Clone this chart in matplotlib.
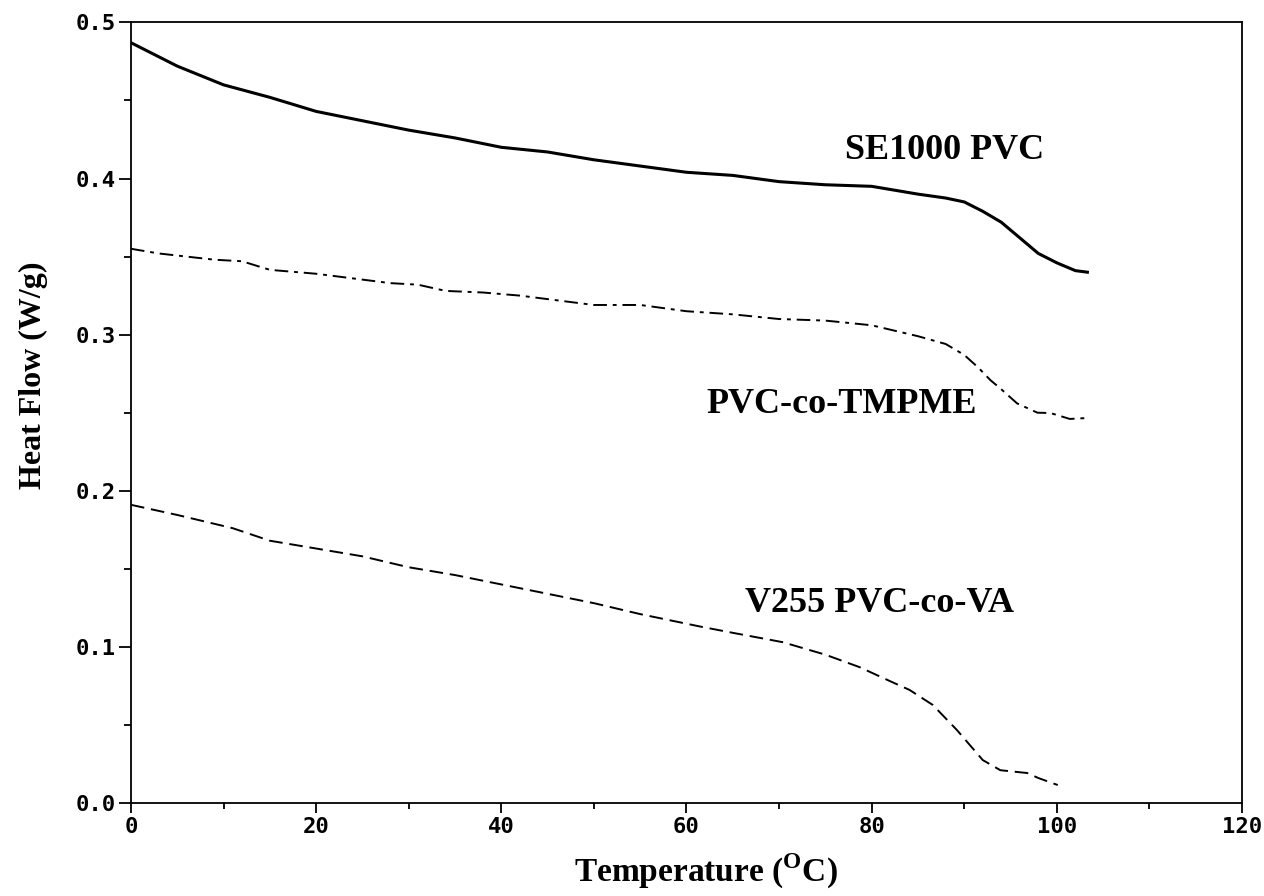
import matplotlib
matplotlib.use("Agg")
import matplotlib.pyplot as plt
from matplotlib.ticker import MultipleLocator

plt.rcParams['mathtext.fontset'] = 'custom'
plt.rcParams['mathtext.rm'] = 'Liberation Serif:bold'

# ---- data ----
se_temp = [0, 2, 5, 10, 15, 20, 25, 30, 35, 40, 45, 50, 55, 60, 65, 70, 75, 80,
           85, 88, 90, 92, 94, 96, 98, 100, 102, 103.3]
se_flow = [0.487, 0.481, 0.472, 0.460, 0.452, 0.443, 0.437, 0.431, 0.426, 0.420,
           0.417, 0.412, 0.408, 0.404, 0.402, 0.398, 0.396, 0.395, 0.390, 0.3875,
           0.385, 0.379, 0.372, 0.362, 0.352, 0.346, 0.341, 0.340]

tm_temp = [0, 3, 6, 9, 12, 15, 20, 24, 28, 31, 34, 38, 42, 46, 50, 55, 60, 65, 70,
           75, 80, 85, 88, 90, 91.5, 92.8, 94, 95.7, 97.9, 99.3, 101.4, 103.3]
tm_flow = [0.355, 0.352, 0.350, 0.348, 0.347, 0.3415, 0.339, 0.336, 0.333, 0.332,
           0.328, 0.327, 0.325, 0.322, 0.319, 0.319, 0.315, 0.313, 0.310, 0.309,
           0.306, 0.299, 0.294, 0.287, 0.279, 0.271, 0.265, 0.256, 0.250, 0.2498,
           0.246, 0.2466]

va_temp = [0, 5, 11, 15, 20, 25, 30, 35, 40, 45, 50, 55, 61.5, 65, 70.4, 75, 78.7,
           82, 84.1, 86.6, 89.2, 92, 93.9, 96.8, 98, 100.1]
va_flow = [0.191, 0.1845, 0.176, 0.168, 0.163, 0.158, 0.151, 0.146, 0.140, 0.134,
           0.128, 0.121, 0.113, 0.109, 0.103, 0.095, 0.087, 0.078, 0.0724, 0.0628,
           0.0468, 0.0275, 0.021, 0.0192, 0.016, 0.0115]

series_labels = ["SE1000 PVC", "PVC-co-TMPME", "V255 PVC-co-VA"]
label_pos = [(87.9, 0.418), (76.8, 0.255), (80.8, 0.1275)]

x_ticks = [0, 20, 40, 60, 80, 100, 120]
y_ticks = [0.0, 0.1, 0.2, 0.3, 0.4, 0.5]

# ---- figure ----
fig = plt.figure(figsize=(12.64, 8.96), dpi=100)
ax = fig.add_axes([0.1036, 0.1038, 0.879, 0.8712])

ax.plot(se_temp, se_flow, color='black', lw=2.2, linestyle='-')
ax.plot(tm_temp, tm_flow, color='black', lw=1.4, linestyle=(0, (7, 3, 2, 3)))
ax.plot(va_temp, va_flow, color='black', lw=1.4, linestyle=(0, (7, 3.5)))

for lab, (lx, ly) in zip(series_labels, label_pos):
    ax.text(lx, ly, lab, ha='center', va='center', fontsize=26,
            fontweight='bold', family='Liberation Serif')

ax.set_xlim(0, 120)
ax.set_ylim(0, 0.5)
ax.set_xticks(x_ticks)
ax.set_xticklabels([str(v) for v in x_ticks])
ax.set_yticks(y_ticks)
ax.set_yticklabels([f"{v:.1f}" for v in y_ticks])
ax.xaxis.set_minor_locator(MultipleLocator(10))
ax.yaxis.set_minor_locator(MultipleLocator(0.05))

for lbl in ax.get_xticklabels() + ax.get_yticklabels():
    lbl.set_family('DejaVu Sans Mono')
    lbl.set_fontsize(16)
    lbl.set_fontweight('bold')

ax.tick_params(axis='x', which='major', direction='out', length=7, width=1.3, pad=3)
ax.tick_params(axis='x', which='minor', direction='out', length=4, width=1.3)
ax.tick_params(axis='y', which='major', direction='out', length=9, width=1.3, pad=2)
ax.tick_params(axis='y', which='minor', direction='out', length=5, width=1.3)

for sp in ax.spines.values():
    sp.set_linewidth(1.3)

ax.set_xlabel(r"Temperature ($^{\rm O}$C)", fontsize=24, fontweight='bold',
              family='Liberation Serif')
ax.set_ylabel("Heat Flow (W/g)", fontsize=23, fontweight='bold',
              family='Liberation Serif')
ax.xaxis.set_label_coords(0.5176, -0.062)
ax.yaxis.set_label_coords(-0.075, 0.548)

fig.savefig("out.png", dpi=100)
